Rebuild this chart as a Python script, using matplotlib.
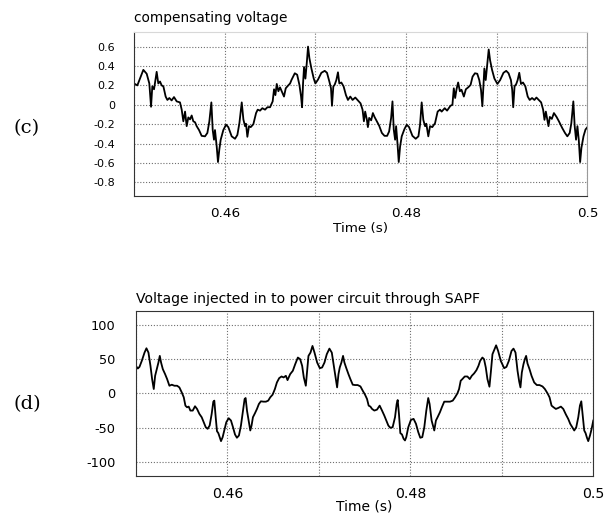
import matplotlib
matplotlib.use("Agg")
import matplotlib.pyplot as plt

plt.rcParams["font.family"] = "sans-serif"
plt.rcParams["font.sans-serif"] = ["DejaVu Sans"]

# (c) compensating voltage
t_c = [0.45000, 0.45037, 0.45103, 0.45140, 0.45169, 0.45188, 0.45202, 0.45221, 0.45250, 0.45268,
       0.45287, 0.45305, 0.45324, 0.45349, 0.45368, 0.45390, 0.45415, 0.45441, 0.45471, 0.45507,
       0.45526, 0.45544, 0.45563, 0.45581, 0.45599, 0.45618, 0.45636, 0.45654, 0.45673, 0.45691,
       0.45717, 0.45746, 0.45783, 0.45809, 0.45831, 0.45853, 0.45868, 0.45882, 0.45893, 0.45912,
       0.45926, 0.45941, 0.45956, 0.45985, 0.46015, 0.46040, 0.46077, 0.46114, 0.46140, 0.46162,
       0.46188, 0.46206, 0.46224, 0.46235, 0.46250, 0.46268, 0.46287, 0.46316, 0.46346, 0.46364,
       0.46390, 0.46415, 0.46445, 0.46471, 0.46500, 0.46529, 0.46544, 0.46559, 0.46574, 0.46592,
       0.46610, 0.46629, 0.46654, 0.46673, 0.46691, 0.46721,
       0.46736, 0.46773, 0.46799, 0.46824, 0.46842, 0.46853, 0.46864, 0.46875, 0.46890, 0.46905,
       0.46919, 0.46934, 0.46956, 0.46982, 0.47000, 0.47029, 0.47066, 0.47103, 0.47128, 0.47154,
       0.47172, 0.47183, 0.47198, 0.47212, 0.47231, 0.47249, 0.47264, 0.47286, 0.47311, 0.47337,
       0.47359, 0.47385, 0.47410, 0.47440, 0.47469, 0.47498, 0.47520, 0.47535, 0.47549, 0.47568,
       0.47579, 0.47593, 0.47615, 0.47634, 0.47652, 0.47678, 0.47703, 0.47733, 0.47762, 0.47791,
       0.47813, 0.47835, 0.47850, 0.47864, 0.47879, 0.47890, 0.47905, 0.47919, 0.47934, 0.47952,
       0.47982, 0.48007, 0.48033, 0.48070, 0.48106, 0.48136, 0.48154, 0.48172, 0.48190, 0.48209,
       0.48223, 0.48245, 0.48264, 0.48289, 0.48319, 0.48348, 0.48374, 0.48392,
       0.48426, 0.48452, 0.48489, 0.48511, 0.48526, 0.48541, 0.48556, 0.48574, 0.48593, 0.48611,
       0.48637, 0.48659, 0.48685, 0.48711, 0.48733, 0.48759, 0.48785, 0.48807, 0.48826, 0.48841,
       0.48852, 0.48863, 0.48878, 0.48896, 0.48911, 0.48926, 0.48948, 0.48974, 0.49007, 0.49037,
       0.49074, 0.49104, 0.49130, 0.49156, 0.49170, 0.49181, 0.49196, 0.49215, 0.49230, 0.49248,
       0.49267, 0.49289, 0.49315, 0.49341, 0.49363, 0.49389, 0.49415, 0.49437, 0.49463, 0.49489,
       0.49511, 0.49526, 0.49541, 0.49556, 0.49570, 0.49585, 0.49607, 0.49630, 0.49659, 0.49685,
       0.49722, 0.49752, 0.49778, 0.49804, 0.49822, 0.49844, 0.49859, 0.49874, 0.49889, 0.49904,
       0.49919, 0.49933, 0.49956, 0.49978, 0.50000]
v_c = [0.22, 0.20, 0.36, 0.32, 0.22, -0.02, 0.19, 0.16, 0.34, 0.22,
       0.24, 0.20, 0.19, 0.085, 0.05, 0.07, 0.045, 0.08, 0.035, 0.025,
       -0.05, -0.17, -0.07, -0.22, -0.13, -0.15, -0.11, -0.17, -0.18, -0.22,
       -0.26, -0.32, -0.325, -0.29, -0.17, 0.025, -0.26, -0.36, -0.26, -0.43,
       -0.59, -0.46, -0.36, -0.26, -0.205, -0.23, -0.325, -0.35, -0.31, -0.19,
       0.025, -0.15, -0.22, -0.195, -0.33, -0.22, -0.23, -0.20, -0.085, -0.05,
       -0.06, -0.035, -0.05, -0.025, -0.025, 0.035, 0.16, 0.10, 0.215, 0.14,
       0.18, 0.14, 0.085, 0.17, 0.19, 0.22,
       0.255, 0.325, 0.31, 0.205, 0.085, -0.025, 0.22, 0.39, 0.27, 0.43,
       0.60, 0.48, 0.375, 0.27, 0.22, 0.26, 0.33, 0.35, 0.33, 0.24,
       0.17, -0.01, 0.19, 0.205, 0.255, 0.335, 0.22, 0.23, 0.19, 0.10,
       0.05, 0.085, 0.05, 0.075, 0.045, 0.015, -0.05, -0.17, -0.07, -0.155,
       -0.23, -0.135, -0.16, -0.085, -0.125, -0.17, -0.215, -0.29, -0.32, -0.32,
       -0.275, -0.135, 0.035, -0.255, -0.36, -0.22, -0.395, -0.59, -0.43, -0.325,
       -0.25, -0.205, -0.23, -0.32, -0.35, -0.325, -0.205, 0.025, -0.155, -0.22,
       -0.195, -0.325, -0.22, -0.23, -0.19, -0.07, -0.05, -0.07,
       -0.035, -0.06, -0.01, 0.0, 0.17, 0.07, 0.16, 0.23, 0.14, 0.155,
       0.085, 0.16, 0.18, 0.205, 0.29, 0.325, 0.32, 0.255, 0.155, -0.015,
       0.19, 0.375, 0.255, 0.43, 0.57, 0.46, 0.36, 0.27, 0.215, 0.255,
       0.33, 0.35, 0.325, 0.255, 0.155, -0.025, 0.19, 0.215, 0.255, 0.33,
       0.215, 0.23, 0.19, 0.085, 0.05, 0.07, 0.05, 0.075, 0.05, 0.025,
       -0.05, -0.155, -0.07, -0.145, -0.22, -0.125, -0.145, -0.085, -0.125, -0.17,
       -0.24, -0.29, -0.325, -0.29, -0.19, 0.035, -0.22, -0.36, -0.22, -0.36,
       -0.59, -0.445, -0.325, -0.255, -0.23]

# (d) voltage injected through SAPF
t_d = [0.45000, 0.45022, 0.45040, 0.45065, 0.45095, 0.45116, 0.45138, 0.45160, 0.45178, 0.45196,
       0.45211, 0.45229, 0.45247, 0.45262, 0.45276, 0.45295, 0.45320, 0.45342, 0.45367, 0.45393,
       0.45422, 0.45451, 0.45476, 0.45502, 0.45524, 0.45542, 0.45560, 0.45578, 0.45596, 0.45622,
       0.45647, 0.45669, 0.45695, 0.45720, 0.45742, 0.45764, 0.45785, 0.45807, 0.45829, 0.45847,
       0.45858, 0.45873, 0.45887, 0.45902, 0.45916, 0.45931, 0.45949, 0.45967, 0.45989, 0.46015,
       0.46040, 0.46062, 0.46084, 0.46105, 0.46127, 0.46149, 0.46171, 0.46189, 0.46200, 0.46215,
       0.46233, 0.46251, 0.46265, 0.46280, 0.46302, 0.46324, 0.46345, 0.46367, 0.46396, 0.46422,
       0.46447, 0.46469, 0.46495, 0.46520, 0.46542, 0.46567, 0.46593, 0.46615, 0.46640, 0.46658,
       0.46687,
       0.46716, 0.46742, 0.46771, 0.46796, 0.46818, 0.46836, 0.46858, 0.46873, 0.46887, 0.46909,
       0.46931, 0.46953, 0.46982, 0.47011, 0.47036, 0.47062, 0.47087, 0.47116, 0.47142, 0.47164,
       0.47185, 0.47200, 0.47215, 0.47229, 0.47247, 0.47265, 0.47280, 0.47298, 0.47324, 0.47345,
       0.47371, 0.47396, 0.47425, 0.47455, 0.47480, 0.47505, 0.47527, 0.47545, 0.47564, 0.47582,
       0.47607, 0.47636, 0.47665, 0.47691, 0.47716, 0.47738, 0.47760, 0.47782, 0.47807, 0.47833,
       0.47851, 0.47862, 0.47876, 0.47891, 0.47909, 0.47927, 0.47942, 0.47956, 0.47978, 0.48007,
       0.48036, 0.48062, 0.48087, 0.48109, 0.48131, 0.48153, 0.48175, 0.48196, 0.48211, 0.48233,
       0.48262, 0.48280, 0.48298, 0.48324, 0.48345, 0.48371,
       0.48405, 0.48434, 0.48464, 0.48489, 0.48515, 0.48533, 0.48551, 0.48569, 0.48595, 0.48624,
       0.48650, 0.48672, 0.48697, 0.48723, 0.48745, 0.48763, 0.48788, 0.48806, 0.48825, 0.48843,
       0.48865, 0.48880, 0.48898, 0.48916, 0.48938, 0.48960, 0.48989, 0.49026, 0.49051, 0.49077,
       0.49106, 0.49128, 0.49150, 0.49172, 0.49190, 0.49204, 0.49219, 0.49237, 0.49252, 0.49266,
       0.49281, 0.49303, 0.49325, 0.49354, 0.49383, 0.49412, 0.49445, 0.49471, 0.49500, 0.49522,
       0.49544, 0.49566, 0.49591, 0.49617, 0.49646, 0.49672, 0.49701, 0.49726, 0.49748, 0.49774,
       0.49792, 0.49814, 0.49836, 0.49854, 0.49869, 0.49883, 0.49901, 0.49916, 0.49931, 0.49945,
       0.49964, 0.49982, 0.50000]
v_d = [40.1, 36.2, 38.6, 47.3, 59.4, 65.7, 59.4, 40.1, 20.8, 6.3,
       25.6, 35.3, 44.9, 54.6, 44.9, 35.3, 28.0, 20.8, 11.1, 12.6,
       11.1, 11.1, 8.7, 1.4, -5.8, -17.9, -20.3, -19.3, -25.1, -25.1,
       -18.8, -22.7, -30.0, -34.8, -42.0, -49.3, -51.7, -46.9, -30.0, -12.1,
       -10.6, -34.8, -55.1, -58.0, -63.8, -69.6, -63.8, -54.1, -42.0, -36.2,
       -39.6, -49.3, -59.9, -64.7, -61.4, -46.9, -25.1, -8.2, -6.8, -25.1,
       -39.6, -54.1, -46.9, -34.8, -29.0, -22.7, -15.5, -11.6, -12.1, -12.1,
       -10.6, -5.8, -1.9, 6.3, 15.9, 22.2, 24.6, 23.2, 25.6, 19.3,
       28.0,
       32.9, 42.5, 52.2, 49.8, 40.1, 23.2, 11.1, 32.9, 54.6, 59.4,
       69.1, 59.4, 44.9, 36.7, 37.7, 44.9, 57.0, 65.2, 59.4, 40.1,
       20.8, 8.7, 28.0, 37.7, 44.9, 54.6, 44.9, 37.7, 28.0, 20.8,
       12.6, 12.1, 12.1, 10.1, 3.9, -1.9, -8.2, -17.9, -19.3, -22.7,
       -25.1, -23.7, -17.9, -25.1, -32.4, -39.6, -46.9, -50.2, -49.3, -34.8,
       -15.5, -9.7, -30.0, -58.0, -59.9, -66.2, -68.6, -63.8, -49.3, -38.6,
       -37.2, -44.4, -56.5, -64.7, -63.8, -49.3, -25.1, -6.8, -15.5, -39.6,
       -54.1, -39.6, -34.8, -27.5, -20.3, -12.1,
       -12.1, -12.1, -10.6, -5.8, 0.0, 6.3, 18.4, 20.8, 24.6, 24.6,
       20.8, 25.6, 29.0, 33.8, 40.1, 47.3, 52.2, 49.8, 37.7, 20.8,
       9.7, 30.4, 57.0, 62.8, 70.0, 61.8, 47.3, 36.7, 38.6, 47.3,
       61.8, 65.2, 59.4, 32.9, 17.4, 8.7, 30.4, 42.5, 49.8, 54.6,
       43.5, 35.3, 25.6, 15.9, 12.1, 12.1, 10.1, 6.3, 0.0, -5.8,
       -17.9, -20.3, -22.7, -21.3, -19.3, -22.7, -30.9, -37.2, -44.4, -50.2,
       -54.1, -49.3, -34.8, -17.9, -11.6, -30.0, -54.1, -58.0, -64.7, -69.6,
       -61.4, -51.7, -39.6]

x_ticks = [0.45, 0.46, 0.47, 0.48, 0.49, 0.50]
x_ticklabels = ["", "0.46", "", "0.48", "", "0.5"]
y_ticks_c = [0.6, 0.4, 0.2, 0.0, -0.2, -0.4, -0.6, -0.8]
y_ticklabels_c = ["0.6", "0.4", "0.2", "0", "-0.2", "-0.4", "-0.6", "-0.8"]
y_ticks_d = [100, 50, 0, -50, -100]
y_ticklabels_d = ["100", "50", "0", "-50", "-100"]

GRID = dict(color="#6e6e6e", linestyle=(0, (1, 1.6)), linewidth=0.8)
SERIF = ["DejaVu Serif", "Liberation Serif"]

fig = plt.figure(figsize=(6.11, 5.15), dpi=100)
fig.patch.set_facecolor("white")


def _panel(ax, t, v, yticks, ylabels, ylim, title, sizes, ypad, tpad, lpad):
    xs, ys, ls, ts = sizes
    ax.plot(t, v, color="black", lw=1.3)
    ax.set_xlim(0.45, 0.50)
    ax.set_ylim(*ylim)
    ax.set_xticks(x_ticks)
    ax.set_xticklabels(x_ticklabels, fontsize=xs)
    ax.set_yticks(yticks)
    ax.set_yticklabels(ylabels, fontsize=ys)
    ax.tick_params(axis="x", length=0, pad=8)
    ax.tick_params(axis="y", length=0, pad=ypad)
    ax.grid(True, **GRID)
    ax.set_xlabel("Time (s)", fontsize=ls, labelpad=lpad)
    ax.set_title(title, loc="left", fontsize=ts, pad=tpad)


ax_c = fig.add_axes([0.2193, 0.6194, 0.7422, 0.3184])
_panel(ax_c, t_c, v_c, y_ticks_c, y_ticklabels_c, (-0.94, 0.75), "compensating voltage",
       (9.7, 8.0, 9.7, 9.9), 13.5, 7, 1)
ax_c.spines["top"].set_color("#d8d8d8")
ax_c.spines["right"].set_color("#9a9a9a")
ax_c.spines["left"].set_color("#333333")
ax_c.spines["bottom"].set_color("#333333")

ax_d = fig.add_axes([0.2223, 0.0763, 0.7487, 0.3198])
_panel(ax_d, t_d, v_d, y_ticks_d, y_ticklabels_d, (-120, 120),
       "Voltage injected in to power circuit through SAPF", (10.2, 9.3, 10.0, 10.1), 14.5, 6, -1)
for s in ax_d.spines.values():
    s.set_color("#333333")

fig.text(0.044, 0.751, "(c)", fontsize=14, family=SERIF, ha="center", va="center")
fig.text(0.045, 0.2155, "(d)", fontsize=14, family=SERIF, ha="center", va="center")

fig.savefig("out.png", dpi=100, facecolor="white")
